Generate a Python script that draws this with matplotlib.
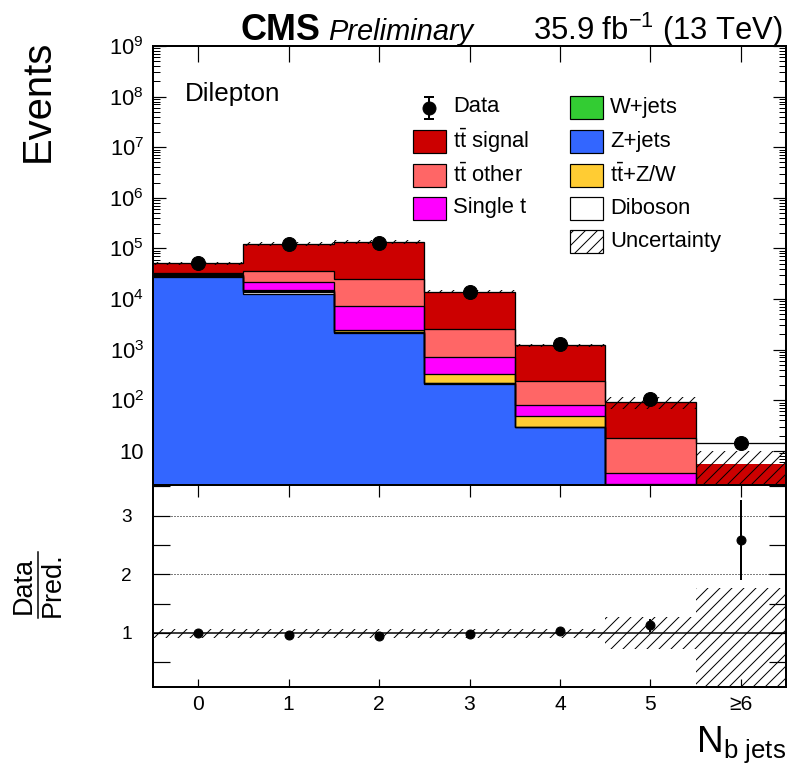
import numpy as np
import matplotlib
matplotlib.use("Agg")
import matplotlib.pyplot as plt
from matplotlib.patches import Rectangle
from matplotlib.lines import Line2D
from matplotlib.ticker import FixedLocator, LogLocator, FuncFormatter, NullFormatter

plt.rcParams['font.family'] = ['Liberation Sans', 'DejaVu Sans']
plt.rcParams['mathtext.fontset'] = 'custom'
plt.rcParams['mathtext.rm'] = 'Liberation Sans'
plt.rcParams['mathtext.it'] = 'Liberation Sans:italic'
plt.rcParams['mathtext.bf'] = 'Liberation Sans:bold'
plt.rcParams['hatch.linewidth'] = 1.0

# ---- event yields per b-jet multiplicity bin ----
n_bjets = ['0', '1', '2', '3', '4', '5', '\u22656']

zjets     = [27600, 12300, 2150, 210, 29, 1.2, 0.3]
diboson   = [1500, 1600, 60, 8, 0.7, 0.05, 0.0]
wjets     = [200, 400, 20, 2, 0.3, 0.05, 0.0]
ttv       = [40, 800, 250, 105, 19, 0.9, 0.2]
single_t  = [1200, 6600, 4700, 375, 31, 1.5, 0.3]
tt_other  = [2200, 14000, 17300, 1800, 163, 14.3, 0.6]
tt_signal = [18000, 88000, 111000, 11500, 987, 75, 4.2]
data      = [51000, 119500, 127800, 13860, 1267, 105, 14.5]

# relative systematic uncertainty on the prediction (up / down)
unc_up   = [0.06, 0.06, 0.06, 0.06, 0.06, 0.27, 0.77]
unc_down = [0.08, 0.08, 0.08, 0.08, 0.08, 0.27, 1.00]

# envelope line of the stack in the last (overflow) bin
last_bin_envelope = 14.5

W, H = 789, 769
fig = plt.figure(figsize=(W / 72, H / 72), dpi=72)

L, R = 153, 786
T_TOP, T_BOT, R_BOT = 46, 485, 687
ax = fig.add_axes([L / W, 1 - T_BOT / H, (R - L) / W, (T_BOT - T_TOP) / H])
axr = fig.add_axes([L / W, 1 - R_BOT / H, (R - L) / W, (R_BOT - T_BOT) / H], sharex=ax)

nb = len(n_bjets)
edges = np.arange(nb + 1) - 0.5
centers = np.arange(nb)
floor = 1e-3

layers = [
    (zjets, '#3366ff'),
    (diboson, '#ffffff'),
    (wjets, '#33cc33'),
    (ttv, '#ffcc33'),
    (single_t, '#ff00ff'),
    (tt_other, '#ff6666'),
    (tt_signal, '#cc0000'),
]

ax.set_yscale('log')
cum = np.zeros(nb)
tops = []
for vals, col in layers:
    lo = np.maximum(cum, floor)
    cum = cum + np.asarray(vals, dtype=float)
    hi = np.maximum(cum, floor)
    ax.stairs(hi, edges, baseline=lo, fill=True, facecolor=col,
              edgecolor='none', linewidth=0, zorder=2)
    tops.append(hi)
total = cum.copy()

# uncertainty band on the stack
up = np.asarray(unc_up)
dn = np.asarray(unc_down)
ax.stairs(total * (1 + up), edges, baseline=np.maximum(total * (1 - dn), floor),
          fill=True, facecolor='none', edgecolor='black', linewidth=0,
          hatch='//', zorder=3)

# outlines of the stacked components
for hi in tops[:-1]:
    ax.stairs(hi, edges, baseline=None, color='black', linewidth=1.3, zorder=4)
envelope = tops[-1].copy()
envelope[-1] = last_bin_envelope
ax.stairs(envelope, edges, baseline=None, color='black', linewidth=1.3, zorder=4)

d = np.asarray(data, dtype=float)
ax.errorbar(centers, d, yerr=np.sqrt(d), fmt='o', color='black',
            markersize=14, elinewidth=2, capsize=0, zorder=6)

ax.set_xlim(-0.5, 6.5)
ax.set_ylim(2.11, 1e9)

def log_label(v, pos):
    e = int(round(np.log10(v)))
    if e == 1:
        return '10'
    return r'$\mathregular{10^{%d}}$' % e

ax.yaxis.set_major_locator(LogLocator(base=10, numticks=20))
ax.yaxis.set_minor_locator(LogLocator(base=10, subs=np.arange(2, 10), numticks=20))
ax.yaxis.set_major_formatter(FuncFormatter(log_label))
ax.yaxis.set_minor_formatter(NullFormatter())
ax.set_xticks(centers)
ax.tick_params(which='both', direction='in', top=True, right=True,
               labelbottom=False)
ax.tick_params(axis='y', which='major', length=13, width=1.2, labelsize=22, pad=9)
ax.tick_params(axis='y', which='minor', length=7, width=1.0)
ax.tick_params(axis='x', which='major', length=16, width=1.2)
ax.tick_params(axis='x', which='minor', length=0)
for s in ax.spines.values():
    s.set_linewidth(2)
    s.set_zorder(10)

# ---- ratio panel ----
ratio = d / total
ratio_err = np.sqrt(d) / total
axr.stairs(1 + up, edges, baseline=1 - dn, fill=True, facecolor='none',
           edgecolor='black', linewidth=0, hatch='//', zorder=2)
axr.axhline(1, color='black', linewidth=1.5, zorder=3)
for yl in (2, 3):
    axr.axhline(yl, color='black', linewidth=1.0, linestyle=(0, (1, 2)), zorder=1)
axr.errorbar(centers, ratio, yerr=ratio_err, fmt='o', color='black',
             markersize=9, elinewidth=2, capsize=0, zorder=5)
axr.set_ylim(0.08, 3.52)
axr.set_yticks([1, 2, 3])
axr.set_yticklabels(['1', '2', '3'])
axr.yaxis.set_minor_locator(FixedLocator([0.5, 1.5, 2.5, 3.5]))
axr.set_xticks(centers)
axr.set_xticklabels(n_bjets)
axr.tick_params(which='both', direction='in', right=True)
axr.tick_params(axis='y', which='both', length=17, width=1.2, labelsize=19, pad=21)
axr.tick_params(axis='x', which='major', length=8, width=1.2, labelsize=21, pad=8)
axr.tick_params(axis='x', which='minor', length=0)
sec = axr.secondary_xaxis('top')
sec.set_xticks(centers)
sec.tick_params(direction='in', length=12, width=1.2, labeltop=False)
for s in axr.spines.values():
    s.set_linewidth(2)
    s.set_zorder(10)

# ---- text and legend in pixel coordinates ----
ov = fig.add_axes([0, 0, 1, 1])
ov.set_xlim(0, W)
ov.set_ylim(H, 0)
ov.axis('off')

ov.text(241, 40, 'CMS', fontsize=36, fontweight='bold', va='baseline', ha='left')
ov.text(328, 40, 'Preliminary', fontsize=29, style='italic', va='baseline', ha='left')
ov.text(783, 40, r'35.9 fb$^{\mathregular{-1}}$ (13 TeV)', fontsize=31,
        va='baseline', ha='right')
ov.text(185, 101, 'Dilepton', fontsize=26, va='baseline', ha='left')
ov.text(38, 101, 'Events', fontsize=40, rotation=90, va='center', ha='center')
ov.text(786, 752, r'$\mathrm{N}_{\mathrm{b\ jets}}$', fontsize=37,
        va='baseline', ha='right')

# Data / Pred. fraction label
ov.text(24, 585, 'Data', fontsize=27, rotation=90, va='center', ha='center')
ov.text(53, 585, 'Pred.', fontsize=27, rotation=90, va='center', ha='center')
ov.add_line(Line2D([38, 38], [552, 618], color='black', linewidth=1.5))

legend_entries = [
    (413, 141, r'$\mathrm{t\bar{t}}$ signal', '#cc0000', None),
    (413, 175, r'$\mathrm{t\bar{t}}$ other', '#ff6666', None),
    (413, 208, 'Single t', '#ff00ff', None),
    (570, 107, 'W+jets', '#33cc33', None),
    (570, 141, 'Z+jets', '#3366ff', None),
    (570, 175, r'$\mathrm{t\bar{t}}$+Z/W', '#ffcc33', None),
    (570, 208, 'Diboson', '#ffffff', None),
    (570, 241, 'Uncertainty', 'none', '//'),
]
bw, bh = 33, 23
for x0, yc, label, col, hatch in legend_entries:
    ov.add_patch(Rectangle((x0, yc - bh / 2), bw, bh, facecolor=col,
                           edgecolor='black', linewidth=1.2, hatch=hatch))
    ov.text(x0 + 40, yc, label, fontsize=22, va='center', ha='left')

# data legend marker
ov.add_line(Line2D([429, 429], [97, 119], color='black', linewidth=2))
ov.add_line(Line2D([425, 433], [97, 97], color='black', linewidth=2))
ov.add_line(Line2D([425, 433], [119, 119], color='black', linewidth=2))
ov.plot([429], [108], 'o', color='black', markersize=13)
ov.text(453, 107, 'Data', fontsize=22, va='center', ha='left')

fig.savefig('out.png', dpi=72)
